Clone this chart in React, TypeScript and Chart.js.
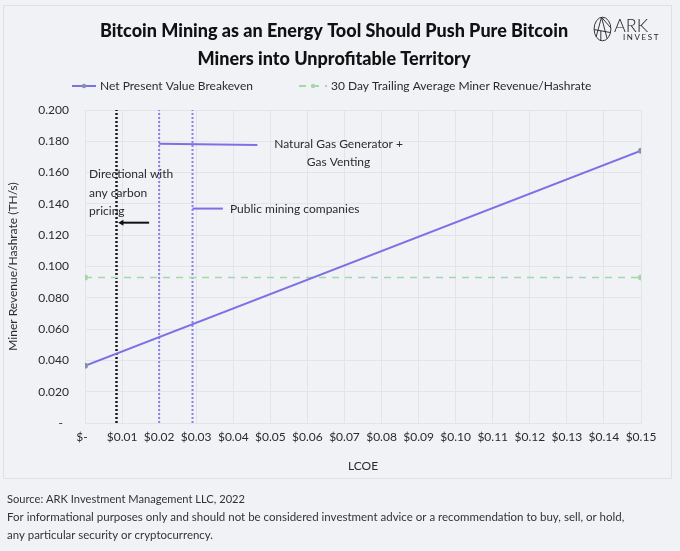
import React, { useEffect, useRef } from "react";
import { Chart, registerables } from "chart.js";
Chart.register(...registerables);

// ---- data ----
const lcoe = [0, 0.15];
const npvBreakeven = [0.0366, 0.174];
const trailingAverage = [0.093, 0.093];
const seriesLabels = ["Net Present Value Breakeven", "30 Day Trailing Average Miner Revenue/Hashrate"];

const carbonX = [0.0085, 0.0085];
const gasGenX = [0.02, 0.02];
const publicMinersX = [0.029, 0.029];
const guideY = [0, 0.2];

const gasCalloutX = [0.02, 0.0465];
const gasCalloutY = [0.1785, 0.1776];
const publicCalloutX = [0.029, 0.0372];
const publicCalloutY = [0.137, 0.137];
const arrowX = [0.0173, 0.0099];
const arrowY = [0.128, 0.128];

const noteTexts = [["Natural Gas Generator +", "Gas Venting"], ["Public mining companies"], ["Directional with", "any carbon", "pricing"]];
const noteX = [0.0684, 0.0391, 0.0011];
const noteY = [0.1783, 0.1367, 0.159];
const noteAlign = ["center", "left", "left"];

const titleLines = ["Bitcoin Mining as an Energy Tool Should Push Pure Bitcoin", "Miners into Unprofitable Territory"];
const footerLines = [
  "Source: ARK Investment Management LLC, 2022",
  "For informational purposes only and should not be considered investment advice or a recommendation to buy, sell, or hold,",
  "any particular security or cryptocurrency.",
];

const BG = "#f1f2f6";
const PURPLE = "#7d70e4";
const GUIDE_PURPLE = "#8c80f0";
const GREEN = "#a6d7a8";
const TEXT = "#2b2b2b";
const GRID = "#e2e4ea";
const FONT = "Lato, 'Open Sans', sans-serif";

const pts = (xs: number[], ys: number[]) => xs.map((x, i) => ({ x, y: ys[i] }));

const decor = {
  id: "decor",
  beforeDraw(chart: any) {
    const { ctx } = chart;
    ctx.save();
    ctx.fillStyle = BG;
    ctx.fillRect(0, 0, chart.width, chart.height);
    ctx.strokeStyle = "#dfe1e7";
    ctx.lineWidth = 1;
    ctx.strokeRect(3.5, 5.5, 668, 473);
    ctx.restore();
  },
  afterDraw(chart: any) {
    const { ctx } = chart;
    const xs = chart.scales.x;
    const ys = chart.scales.y;
    ctx.save();
    ctx.textBaseline = "middle";

    // title
    ctx.fillStyle = "#111111";
    ctx.font = `900 18px ${FONT}`;
    ctx.textAlign = "center";
    ctx.fillText(titleLines[0], 334, 31, 490);
    ctx.fillText(titleLines[1], 334, 59, 289);

    // legend
    const ds = chart.data.datasets;
    const legendItems = [
      { x0: 72, x1: 96, tx: 100, w: 163 },
      { x0: 299, x1: 327, tx: 331, w: 270 },
    ];
    legendItems.forEach((it, i) => {
      const d = ds[i];
      ctx.strokeStyle = d.borderColor;
      ctx.lineWidth = 2;
      ctx.setLineDash(d.borderDash || []);
      ctx.beginPath();
      ctx.moveTo(it.x0, 86);
      ctx.lineTo(it.x1, 86);
      ctx.stroke();
      ctx.setLineDash([]);
      ctx.fillStyle = d.pointBackgroundColor;
      ctx.beginPath();
      ctx.arc((it.x0 + it.x1) / 2, 86, 2.2, 0, Math.PI * 2);
      ctx.fill();
      ctx.fillStyle = TEXT;
      ctx.font = `12px ${FONT}`;
      ctx.textAlign = "left";
      ctx.fillText(seriesLabels[i], it.tx, 86, it.w);
    });

    // notes
    ctx.fillStyle = TEXT;
    ctx.font = `12px ${FONT}`;
    noteTexts.forEach((lines, i) => {
      const px = xs.getPixelForValue(noteX[i]);
      const py = ys.getPixelForValue(noteY[i]);
      ctx.textAlign = noteAlign[i];
      lines.forEach((ln, j) => ctx.fillText(ln, px, py + j * 18.5));
    });

    // logo
    const cx = 602.5, cy = 29, rx = 8.4, ry = 11.8;
    ctx.strokeStyle = "#222";
    ctx.lineWidth = 0.9;
    ctx.beginPath();
    ctx.ellipse(cx, cy, rx, ry, 0, 0, Math.PI * 2);
    ctx.stroke();
    ctx.beginPath();
    ctx.moveTo(cx - 1, cy - ry);
    ctx.lineTo(cx - rx * 0.75, cy + ry * 0.65);
    ctx.moveTo(cx - 1, cy - ry);
    ctx.lineTo(cx + rx * 0.55, cy + ry * 0.82);
    ctx.moveTo(cx - rx, cy + ry * 0.05);
    ctx.lineTo(cx + rx * 0.95, cy + ry * 0.3);
    ctx.moveTo(cx - 1, cy - ry);
    ctx.lineTo(cx + rx * 0.98, cy - ry * 0.1);
    ctx.moveTo(cx - rx * 0.2, cy + ry * 0.15);
    ctx.lineTo(cx - rx * 0.2, cy + ry);
    ctx.stroke();
    ctx.fillStyle = "#1e1e1e";
    ctx.textAlign = "left";
    ctx.textBaseline = "alphabetic";
    ctx.font = `300 18px ${FONT}`;
    ctx.fillText("ARK", 614, 31.5, 44);
    ctx.font = `8px ${FONT}`;
    (ctx as any).letterSpacing = "1.6px";
    ctx.fillText("INVEST", 623, 39.5, 37);
    (ctx as any).letterSpacing = "0px";

    // footer
    ctx.textBaseline = "middle";
    ctx.fillStyle = "#333333";
    ctx.font = `11.5px ${FONT}`;
    ctx.fillText(footerLines[0], 7, 499, 238);
    ctx.fillText(footerLines[1], 7, 517, 622);
    ctx.fillText(footerLines[2], 7, 535, 206);
    ctx.restore();
  },
};

export default function App() {
  const ref = useRef<HTMLCanvasElement>(null);
  useEffect(() => {
    if (!ref.current) return;
    const dotted = (x: number[], color: string, w: number) => ({
      label: "",
      data: pts(x, guideY),
      borderColor: color,
      borderWidth: w,
      borderDash: [2, 2],
      pointRadius: 0,
      showLine: true,
    });
    const chart = new Chart(ref.current, {
      type: "scatter",
      data: {
        datasets: [
          {
            label: seriesLabels[0],
            data: pts(lcoe, npvBreakeven),
            borderColor: PURPLE,
            borderWidth: 2,
            pointRadius: 3,
            pointBackgroundColor: "#8593a6",
            pointBorderWidth: 0,
            showLine: true,
          },
          {
            label: seriesLabels[1],
            data: pts(lcoe, trailingAverage),
            borderColor: GREEN,
            borderWidth: 1.6,
            borderDash: [7, 6],
            pointRadius: 3,
            pointBackgroundColor: GREEN,
            pointBorderWidth: 0,
            showLine: true,
          },
          dotted(carbonX, "#1c1c1c", 2.5),
          dotted(gasGenX, GUIDE_PURPLE, 2),
          dotted(publicMinersX, GUIDE_PURPLE, 2),
          {
            label: "",
            data: pts(gasCalloutX, gasCalloutY),
            borderColor: PURPLE,
            borderWidth: 2,
            pointRadius: 0,
            showLine: true,
          },
          {
            label: "",
            data: pts(publicCalloutX, publicCalloutY),
            borderColor: PURPLE,
            borderWidth: 2,
            pointRadius: 0,
            showLine: true,
          },
          {
            label: "",
            data: pts(arrowX, arrowY),
            borderColor: "#111",
            borderWidth: 2,
            pointRadius: [0, 3.5],
            pointStyle: "triangle",
            rotation: 270,
            pointBackgroundColor: "#111",
            pointBorderWidth: 0,
            showLine: true,
          },
        ] as any,
      },
      options: {
        animation: false,
        responsive: true,
        maintainAspectRatio: false,
        events: [],
        layout: { padding: { top: 110, right: 39, bottom: 68, left: 0 } },
        plugins: { legend: { display: false }, tooltip: { enabled: false }, title: { display: false } },
        scales: {
          x: {
            type: "linear",
            min: 0,
            max: 0.15,
            afterFit: (s: any) => { s.height = 60; },
            grid: { color: GRID, drawTicks: false },
            border: { color: GRID },
            ticks: {
              stepSize: 0.01,
              autoSkip: false,
              maxRotation: 0,
              padding: 7,
              color: TEXT,
              font: { family: FONT, size: 12 },
              callback: (v: any) => (Math.abs(v) < 1e-9 ? "$-  " : "$" + Number(v).toFixed(2)),
            },
            title: { display: true, text: "LCOE", color: TEXT, font: { family: FONT, size: 12 }, padding: { top: 0, bottom: 10 } },
          },
          y: {
            type: "linear",
            min: 0,
            max: 0.2,
            afterFit: (s: any) => { s.width = 85; },
            grid: { color: GRID, drawTicks: false },
            border: { color: GRID },
            ticks: {
              stepSize: 0.02,
              padding: 16,
              color: TEXT,
              font: { family: FONT, size: 12 },
              callback: (v: any) => (Math.abs(v) < 1e-9 ? "-  " : Number(v).toFixed(3)),
            },
            title: { display: true, text: "Miner Revenue/Hashrate (TH/s)", color: TEXT, font: { family: FONT, size: 12 }, padding: { top: 6, bottom: 0 } },
          },
        },
      },
      plugins: [decor],
    } as any);
    return () => chart.destroy();
  }, []);
  return (
    <div style={{ position: "fixed", left: 0, top: 0, width: 680, height: 551, background: BG }}>
      <canvas ref={ref} />
    </div>
  );
}
